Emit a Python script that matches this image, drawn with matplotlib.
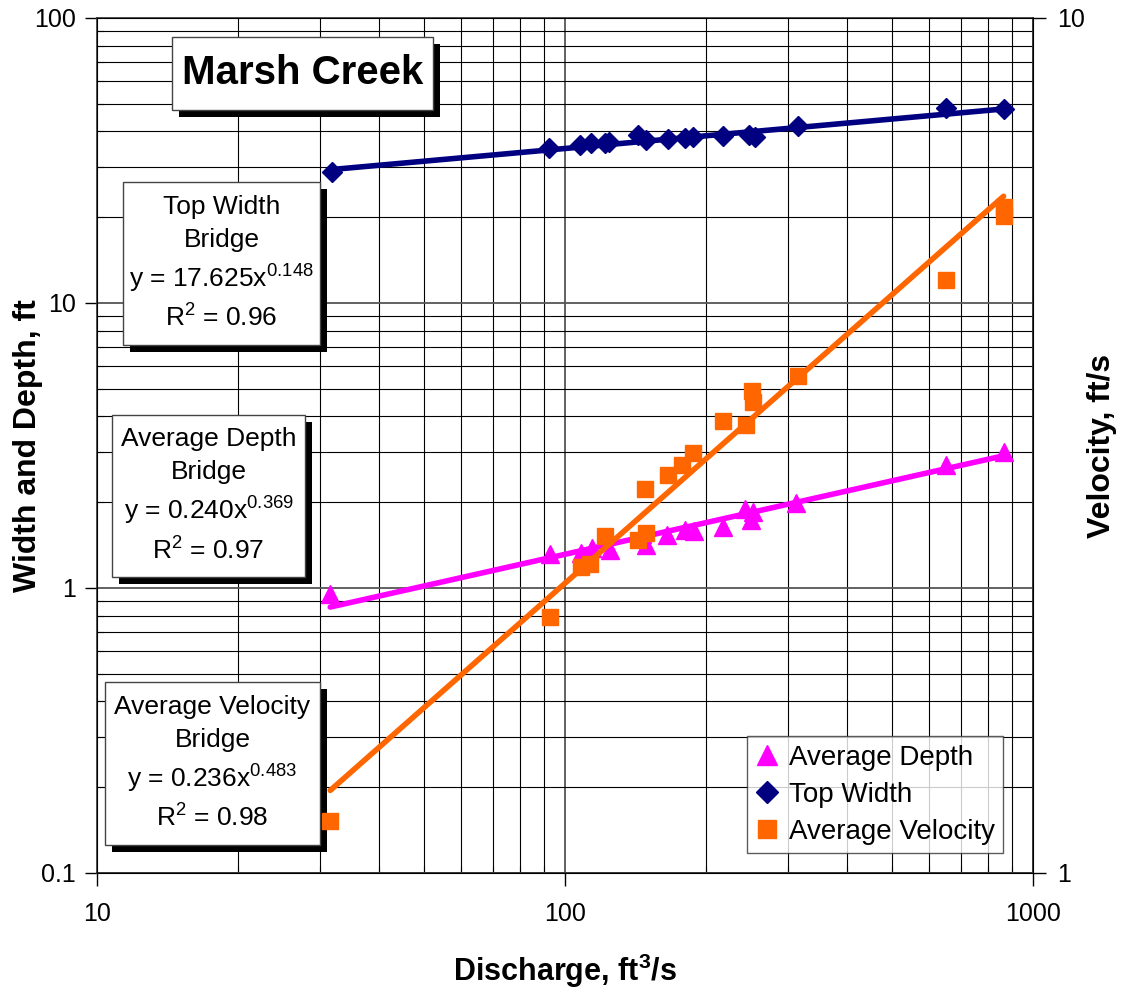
"""Marsh Creek bridge hydraulic geometry: width, depth and velocity vs discharge."""

import matplotlib

matplotlib.use("Agg")

import matplotlib.pyplot as plt
import numpy as np
from matplotlib.lines import Line2D
from matplotlib.patches import Rectangle
from matplotlib.ticker import FixedLocator, LogLocator, NullFormatter, NullLocator
from matplotlib.transforms import offset_copy

plt.rcParams["font.family"] = ["Liberation Sans", "DejaVu Sans"]
plt.rcParams["mathtext.fontset"] = "custom"
plt.rcParams["mathtext.rm"] = "Liberation Sans"
plt.rcParams["mathtext.it"] = "Liberation Sans"
plt.rcParams["mathtext.bf"] = "Liberation Sans:bold"

# --- data --------------------------------------------------------------
width_q = [31.7, 92.3, 107.7, 113.6, 121.9, 124, 143, 149, 166, 180, 188,
           218, 247, 254, 314, 652, 868]
top_width = [28.8, 34.9, 35.8, 36.5, 36.3, 36.6, 38.8, 37.3, 37.5, 37.8, 38.3,
             38.5, 38.8, 38.3, 41.9, 48.2, 47.9]

depth_q = [31.5, 92.7, 108, 114, 125, 146, 149, 165, 180, 189, 217, 242, 252,
           250, 312, 652, 868]
avg_depth = [0.95, 1.32, 1.33, 1.38, 1.36, 1.55, 1.42, 1.53, 1.60, 1.58, 1.64,
             1.90, 1.85, 1.73, 1.98, 2.70, 3.00]

velocity_q = [31.5, 92.7, 108, 113, 122, 143, 149, 148, 166, 178, 188, 217,
              243, 251, 252, 314, 652, 865, 865]
avg_velocity = [1.15, 1.99, 2.28, 2.30, 2.48, 2.45, 2.50, 2.81, 2.92, 3.00,
                3.10, 3.38, 3.34, 3.66, 3.56, 3.81, 4.94, 6.01, 5.86]

# power-law fits printed on the chart: (coefficient, exponent, r2)
width_fit = (17.625, 0.148, 0.96)
depth_fit = (0.240, 0.369, 0.97)
velocity_fit = (0.236, 0.483, 0.98)

NAVY = "#000080"
MAGENTA = "#FF00FF"
ORANGE = "#FF6600"


def power_line(q_values, fit):
    q = np.array([min(q_values), max(q_values)])
    return q, fit[0] * q ** fit[1]


def shadow_box(ax, extent, text, size, weight="normal", spacing=1.45):
    """Excel-style text box (axes-fraction extent) with a black drop shadow."""
    x0, x1, y0, y1 = extent
    shadow = offset_copy(ax.transAxes, fig=ax.figure, x=7, y=-7, units="dots")
    ax.add_patch(Rectangle((x0, y0), x1 - x0, y1 - y0, transform=shadow,
                           fc="black", ec="black", lw=0, zorder=8))
    ax.add_patch(Rectangle((x0, y0), x1 - x0, y1 - y0, transform=ax.transAxes,
                           fc="white", ec="#444444", lw=1.0, zorder=9))
    ax.text((x0 + x1) / 2, (y0 + y1) / 2, text, transform=ax.transAxes,
            ha="center", va="center", fontsize=size, fontweight=weight,
            linespacing=spacing, multialignment="center", zorder=10)


fig = plt.figure(figsize=(11.23, 9.89), dpi=100)
ax = fig.add_axes([0.0864, 0.1173, 0.8335, 0.8645])
ax2 = ax.twinx()

ax.set_xscale("log")
ax.set_yscale("log")
ax2.set_yscale("log")
ax.set_xlim(10, 1000)
ax.set_ylim(0.1, 100)
ax2.set_ylim(1, 10)

# grid: left-axis majors and minors, plus x majors and minors
ax.grid(True, which="major", color="#555555", lw=1.3)
ax.grid(True, which="minor", color="black", lw=0.8)
ax.set_axisbelow(True)

# series and trendlines
ax.plot(*power_line(width_q, width_fit), color=NAVY, lw=4, solid_capstyle="round", zorder=3)
ax.plot(width_q, top_width, ls="none", marker="D", ms=10, color=NAVY, zorder=4)
ax.plot(*power_line(depth_q, depth_fit), color=MAGENTA, lw=4, solid_capstyle="round", zorder=3)
ax.plot(depth_q, avg_depth, ls="none", marker="^", ms=13, color=MAGENTA, zorder=4)
ax2.plot(*power_line(velocity_q, velocity_fit), color=ORANGE, lw=4, solid_capstyle="round", zorder=3)
# squares sit above the text boxes: the first one touches the velocity box shadow
ax2.plot(velocity_q, avg_velocity, ls="none", marker="s", ms=12, color=ORANGE, zorder=12)

# ticks
for axis in (ax.xaxis, ax.yaxis):
    axis.set_major_locator(LogLocator(base=10))
    axis.set_minor_locator(LogLocator(base=10, subs=np.arange(2, 10)))
    axis.set_minor_formatter(NullFormatter())
ax.set_xticks([10, 100, 1000], ["10", "100", "1000"])
ax.set_yticks([0.1, 1, 10, 100], ["0.1", "1", "10", "100"])
ax.tick_params(which="major", direction="out", length=9, width=1, labelsize=18)
ax.tick_params(which="minor", direction="in", length=5, width=0.8)
ax.tick_params(axis="x", which="major", pad=12)
ax.tick_params(axis="y", which="major", pad=6)

ax2.yaxis.set_major_locator(FixedLocator([1, 10]))
ax2.yaxis.set_minor_locator(NullLocator())
ax2.set_yticklabels(["1", "10"])
ax2.tick_params(which="major", direction="out", length=9, width=1, labelsize=18, pad=8)

for spine in ax.spines.values():
    spine.set_color("#333333")
    spine.set_linewidth(1.2)

ax.set_xlabel("Discharge, ft$^{\\mathbf{3}}$/s", fontsize=22, fontweight="bold")
ax.xaxis.set_label_coords(0.5, -0.092)
ax.set_ylabel("Width and Depth, ft", fontsize=23, fontweight="bold")
ax.yaxis.set_label_coords(-0.058, 0.5)
ax2.set_ylabel("Velocity, ft/s", fontsize=23, fontweight="bold")
ax2.yaxis.set_label_coords(1.058, 0.5)

# annotation boxes (extents as axes fractions: x0, x1, y0, y1)
shadow_box(ax2, (0.0801, 0.3590, 0.8924, 0.9778), "Marsh Creek", 29, weight="bold")
shadow_box(ax2, (0.0278, 0.2382, 0.6175, 0.8082),
           "Top Width\nBridge\ny = 17.625x$^{0.148}$\nR$^{2}$ = 0.96", 19)
shadow_box(ax2, (0.0160, 0.2222, 0.3462, 0.5357),
           "Average Depth\nBridge\ny = 0.240x$^{0.369}$\nR$^{2}$ = 0.97", 19)
shadow_box(ax2, (0.0085, 0.2380, 0.0327, 0.2234),
           "Average Velocity\nBridge\ny = 0.236x$^{0.483}$\nR$^{2}$ = 0.98", 19)

handles = [
    Line2D([], [], ls="none", marker="^", ms=14, color=MAGENTA),
    Line2D([], [], ls="none", marker="D", ms=11, color=NAVY),
    Line2D([], [], ls="none", marker="s", ms=13, color=ORANGE),
]
legend = ax2.legend(handles, ["Average Depth", "Top Width", "Average Velocity"],
                    loc="lower right", bbox_to_anchor=(0.968, 0.023), borderaxespad=0,
                    fontsize=20, frameon=True, fancybox=False, handlelength=0.8,
                    handletextpad=0.4, borderpad=0.3, labelspacing=0.4)
legend.get_frame().set_edgecolor("#333333")
legend.get_frame().set_linewidth(1.0)
legend.set_zorder(13)

fig.savefig("out.png", dpi=100)
